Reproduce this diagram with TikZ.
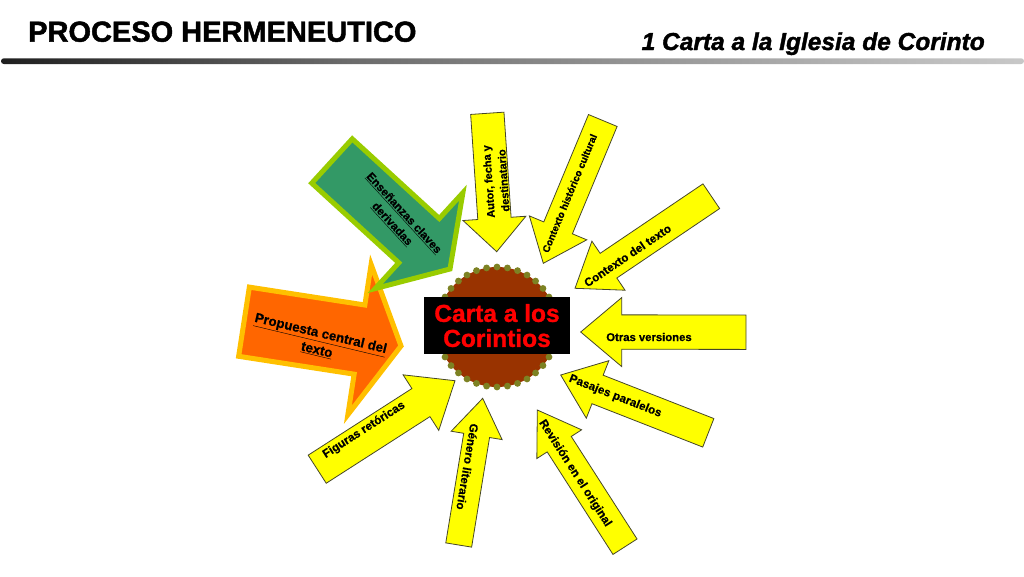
\documentclass[tikz,border=0pt]{standalone}
\usepackage{fontspec}
\setmainfont{Liberation Sans}
\newfontfamily\heavyA{Liberation Sans}[BoldFeatures={FakeBold=1.6}, BoldItalicFeatures={FakeBold=1.6}]
\newfontfamily\heavyB{Liberation Sans}[BoldFeatures={FakeBold=1.2}]
\newfontfamily\heavyC{Liberation Sans}[BoldFeatures={FakeBold=0.6}]
\usetikzlibrary{calc}
\definecolor{yel}{HTML}{FFFF00}
\definecolor{grnfill}{HTML}{339966}
\definecolor{grnline}{HTML}{99CC00}
\definecolor{orfill}{HTML}{FF6600}
\definecolor{orline}{HTML}{FFC000}
\definecolor{brownc}{HTML}{993300}
\definecolor{dotc}{RGB}{125,130,35}
\definecolor{yline}{RGB}{70,70,40}
\pgfdeclarehorizontalshading{barshade}{100bp}{color(0bp)=(black); color(18bp)=(black); color(42bp)=(black!58); color(68bp)=(black!28); color(88bp)=(black!10); color(100bp)=(white)}
\newcommand\barrow[6][]{%
  \coordinate (aT) at #2;
  \coordinate (aP) at #3;
  \coordinate (aB) at ($(aP)!#6pt!(aT)$);
  \path[#1] ($(aT)!#4pt!90:(aP)$) -- ($(aB)!#4pt!90:(aP)$) -- ($(aB)!#5pt!90:(aP)$) -- (aP) -- ($(aB)!#5pt!-90:(aP)$) -- ($(aB)!#4pt!-90:(aP)$) -- ($(aT)!#4pt!-90:(aP)$) -- cycle;
}
\tikzset{
  yarrow/.style={fill=yel, draw=yline, line width=0.8pt, line join=miter},
  garrow/.style={fill=grnfill, draw=grnline, line width=5pt, line join=miter},
  oarrow/.style={fill=orfill, draw=orline, line width=5pt, line join=miter},
  lbl/.style={font=\heavyC\bfseries\fontsize{11.7}{14}\selectfont, align=center, inner sep=0pt},
}
\begin{document}
\begin{tikzpicture}[x=1pt,y=-1pt]
\useasboundingbox (0,0) rectangle (1024,576);
% header
\node[anchor=base west, inner sep=0pt, font=\heavyA\bfseries\fontsize{29}{30}\selectfont] (title) at (28,41.7) {PROCESO HERMENEUTICO};
\node[anchor=base east, inner sep=0pt, font=\heavyA\bfseries\itshape\fontsize{24.5}{26}\selectfont] (sub) at (985,50) {1 Carta a la Iglesia de Corinto};
\shade[shading=barshade, rounded corners=2.8pt] (1,58.3) rectangle (1024,64);
% big arrows
\barrow[oarrow]{(244,321.7)}{(401,346)}{35}{76}{42}
\barrow[garrow]{(332,161)}{(450,269)}{30}{65}{42}
% yellow arrows
\barrow[yarrow]{(487.3,113.3)}{(496.7,251.7)}{16.7}{31.5}{33.4}
\barrow[yarrow]{(602.8,120.5)}{(543.3,263.3)}{15.5}{31.1}{38.4}
\barrow[yarrow]{(711.3,196.2)}{(575,288.3)}{14.9}{29.6}{40.4}
\barrow[yarrow]{(746,332.2)}{(580.7,332)}{17.2}{34.5}{41}
\barrow[yarrow]{(708.3,432.8)}{(560.7,375)}{15.3}{30.9}{39.6}
\barrow[yarrow]{(625,546.7)}{(537.3,410)}{14.3}{26.6}{40.6}
\barrow[yarrow]{(458.7,545)}{(482.7,398.3)}{13.1}{25.8}{37.6}
\barrow[yarrow]{(317.2,469.2)}{(455,380.7)}{16.7}{33}{40.5}
% centre seal
\coordinate (ctr) at (497,327);
\fill[brownc] (ctr) circle (60);
\foreach \a in {0,10,...,350} \fill[dotc] ($(ctr)+(\a:60)$) circle (3.4);
\node[fill=black, text=red, minimum width=146pt, minimum height=57pt, inner sep=0pt, align=center, font=\heavyB\bfseries\fontsize{24.5}{25}\selectfont] (centro) at (497,325.6) {Carta a los\\Corintios};
% labels
\node[lbl, font=\heavyC\bfseries\fontsize{11}{15}\selectfont, rotate=93.9] (autor) at (496,181) {Autor, fecha y\\destinatario};
\node[lbl, font=\heavyC\bfseries\fontsize{10}{12}\selectfont, rotate=67.4] (hist) at (569.5,193.3) {Contexto histórico cultural};
\node[lbl, rotate=34] (ctxt) at (627.5,255.5) {Contexto del texto};
\node[lbl, font=\heavyC\bfseries\fontsize{11.3}{13}\selectfont] (otras) at (649,337) {Otras versiones};
\node[lbl, rotate=-21.4] (pasajes) at (615.3,396.3) {Pasajes paralelos};
\node[lbl, rotate=-57.3] (revision) at (575,473.3) {Revisión en el original};
\node[lbl, rotate=-99.3] (genero) at (467.5,466.7) {Género literario};
\node[lbl, rotate=32.7] (figuras) at (364,430) {Figuras retóricas};
\node[lbl, font=\heavyC\bfseries\fontsize{11.5}{16}\selectfont, rotate=-47.5] (ensen) at (397.8,218.8) {\underline{Enseñanzas claves}\\\underline{derivadas}};
\node[lbl, font=\heavyC\bfseries\fontsize{13.3}{17}\selectfont, rotate=-13.5] (propuesta) at (318.8,342) {\underline{Propuesta central del}\\\underline{texto}};
\end{tikzpicture}
\end{document}
